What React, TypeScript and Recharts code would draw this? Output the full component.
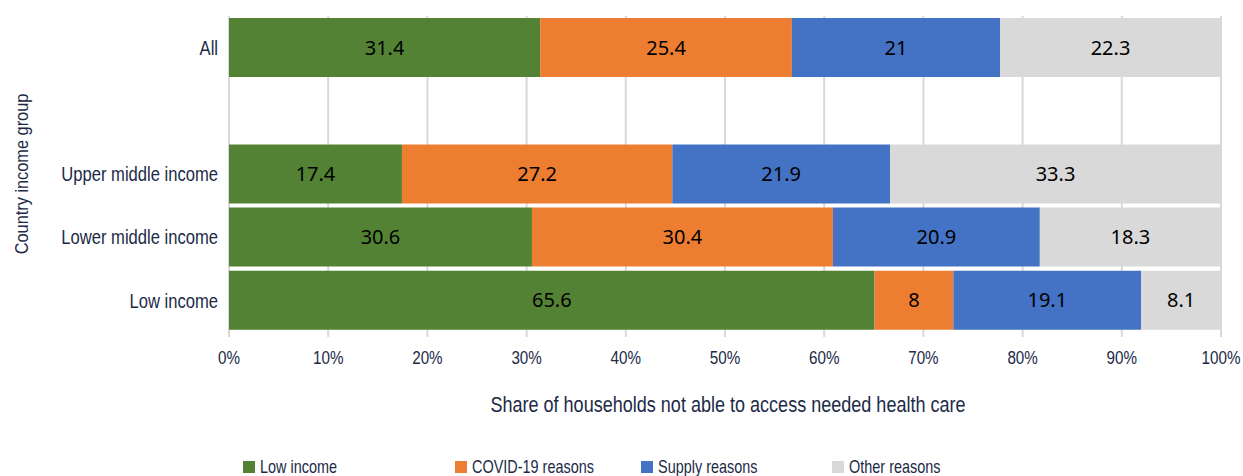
import React from 'react';
import {
  BarChart,
  Bar,
  XAxis,
  YAxis,
  CartesianGrid,
  LabelList,
  Label,
  Legend,
} from 'recharts';

// data
const categories = ['All', '', 'Upper middle income', 'Lower middle income', 'Low income'];
const lowIncome = [31.4, null, 17.4, 30.6, 65.6];
const covidReasons = [25.4, null, 27.2, 30.4, 8];
const supplyReasons = [21, null, 21.9, 20.9, 19.1];
const otherReasons = [22.3, null, 33.3, 18.3, 8.1];
const xTicks = [0, 0.1, 0.2, 0.3, 0.4, 0.5, 0.6, 0.7, 0.8, 0.9, 1];

const seriesDefs = [
  { key: 'low', name: 'Low income', color: '#548235', values: lowIncome },
  { key: 'covid', name: 'COVID-19 reasons', color: '#ED7D31', values: covidReasons },
  { key: 'supply', name: 'Supply reasons', color: '#4472C4', values: supplyReasons },
  { key: 'other', name: 'Other reasons', color: '#D9D9D9', values: otherReasons },
];

const data = categories.map((name, i) => {
  const row: Record<string, any> = { name };
  seriesDefs.forEach((s) => {
    row[s.key] = s.values[i];
  });
  return row;
});

// no condensed font available, so squeeze Liberation Sans horizontally
const AXIS_FONT = '"Liberation Sans", Arial, sans-serif';
const TEXT_COLOR = '#1b2a47';
const LEGEND_X = [243, 455, 641, 832];

type CondProps = {
  x: number;
  y: number;
  squeeze: number;
  size: number;
  anchor?: 'start' | 'middle' | 'end';
  dy?: string;
  rotate?: number;
  children: React.ReactNode;
};

const CondensedText = ({ x, y, squeeze, size, anchor = 'middle', dy, rotate, children }: CondProps) => (
  <text
    transform={`translate(${x},${y})${rotate ? ` rotate(${rotate})` : ''} scale(${squeeze},1)`}
    textAnchor={anchor}
    dy={dy}
    style={{ fontFamily: AXIS_FONT, fontSize: size, fill: TEXT_COLOR }}
  >
    {children}
  </text>
);

const renderXTick = (props: any) => (
  <CondensedText x={props.x} y={props.y} squeeze={0.8} size={19} anchor="middle" dy="0.71em">
    {`${Math.round(props.payload.value * 100)}%`}
  </CondensedText>
);

const renderYTick = (props: any) => (
  <CondensedText x={props.x} y={props.y} squeeze={0.83} size={20} anchor="end" dy="0.355em">
    {props.payload.value}
  </CondensedText>
);

const renderLegend = () => (
  <div style={{ position: 'relative', height: 24, width: 1243 }}>
    {seriesDefs.map((s, i) => (
      <div
        key={s.key}
        style={{
          position: 'absolute',
          left: LEGEND_X[i],
          top: 0,
          display: 'flex',
          alignItems: 'center',
          fontFamily: AXIS_FONT,
          fontSize: 19,
          color: TEXT_COLOR,
          whiteSpace: 'nowrap',
          lineHeight: '24px',
        }}
      >
        <span style={{ display: 'inline-block', width: 12, height: 12, background: s.color, marginRight: 5 }} />
        <span style={{ display: 'inline-block', transform: 'scaleX(0.76)', transformOrigin: 'left center' }}>
          {s.name}
        </span>
      </div>
    ))}
  </div>
);

const fmtLabel = (v: any) => (v === null || v === undefined ? '' : String(v));

const App: React.FC = () => {
  return (
    <div style={{ position: 'absolute', left: 0, top: 0, width: 1243, height: 476, background: '#fff' }}>
      <BarChart
        width={1243}
        height={476}
        data={data}
        layout="vertical"
        stackOffset="expand"
        barCategoryGap={2}
        margin={{ top: 16, right: 22, bottom: 64, left: 0 }}
      >
        <CartesianGrid horizontal={false} stroke="#d9d9d9" strokeWidth={2} />
        <XAxis
          type="number"
          domain={[0, 1]}
          ticks={xTicks}
          axisLine={false}
          tickLine={{ stroke: '#d9d9d9', strokeWidth: 2 }}
          tickSize={5}
          tickMargin={14}
          height={80}
          tick={renderXTick}
        >
          <Label
            content={(props: any) => {
              const vb = props.viewBox || {};
              return (
                <CondensedText
                  x={(vb.x || 0) + (vb.width || 0) / 2 + 3}
                  y={(vb.y || 0) + (vb.height || 0)}
                  squeeze={0.82}
                  size={22}
                  anchor="middle"
                >
                  Share of households not able to access needed health care
                </CondensedText>
              );
            }}
          />
        </XAxis>
        <YAxis
          type="category"
          dataKey="name"
          width={229}
          axisLine={false}
          tickLine={false}
          tickMargin={5}
          tick={renderYTick}
        >
          <Label
            content={(props: any) => {
              const vb = props.viewBox || {};
              return (
                <CondensedText
                  x={(vb.x || 0) + 21}
                  y={(vb.y || 0) + (vb.height || 0) / 2}
                  squeeze={0.86}
                  size={19}
                  anchor="middle"
                  dy="0.355em"
                  rotate={-90}
                >
                  Country income group
                </CondensedText>
              );
            }}
          />
        </YAxis>
        <Legend
          layout="horizontal"
          verticalAlign="middle"
          align="center"
          content={renderLegend}
          wrapperStyle={{ left: 0, top: 455, width: 1243 }}
        />
        {seriesDefs.map((s) => (
          <Bar key={s.key} dataKey={s.key} name={s.name} stackId="a" fill={s.color} isAnimationActive={false}>
            <LabelList
              dataKey={s.key}
              position="center"
              formatter={fmtLabel}
              style={{ fontFamily: '"Noto Sans", "Open Sans", sans-serif', fontSize: 20, fill: '#000' }}
            />
          </Bar>
        ))}
      </BarChart>
    </div>
  );
};

export default App;
